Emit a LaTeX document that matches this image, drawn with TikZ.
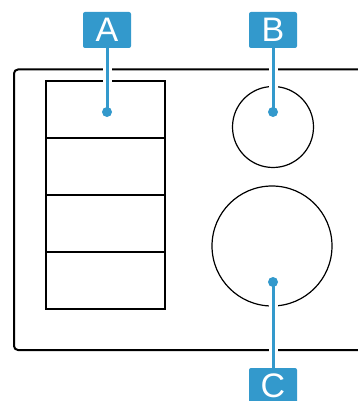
\documentclass[tikz,border=0pt]{standalone}
\usepackage{fontspec}
\setmainfont{Liberation Sans}
\usetikzlibrary{positioning}
\definecolor{calloutblue}{RGB}{51,153,204}

\begin{document}
\begin{tikzpicture}[
  x=1pt, y=-1pt,
  callout/.style={fill=calloutblue, rounded corners=2pt, minimum width=48pt, minimum height=36pt,
    inner sep=0pt, text=white, font=\fontsize{34}{34}\selectfont},
  cell/.style={draw, line width=1.3pt, minimum width=119pt, minimum height=57pt, inner sep=0pt, outer sep=0pt},
  knob/.style={draw, circle, line width=1.2pt, inner sep=0pt},
  leader/.style={calloutblue, line width=3pt, preaction={draw=white, line width=9pt}},
  pin/.style={fill=calloutblue, circle, inner sep=0pt, minimum size=10pt}
]
  \useasboundingbox (0,0) rectangle (358,401);
  \clip (0,0) rectangle (358,401);

  % housing
  \draw[line width=2pt, rounded corners=4pt] (400,69.5) -- (14,69.5) -- (14,350) -- (400,350);

  % stacked cells
  \node[cell] (cellone) at (105.5,109.5) {};
  \node[cell, below=0pt of cellone] (celltwo) {};
  \node[cell, below=0pt of celltwo] (cellthree) {};
  \node[cell, below=0pt of cellthree] (cellfour) {};

  % dials
  \node[knob, minimum size=81pt] (dialsmall) at (273,127) {};
  \node[knob, minimum size=120pt] (diallarge) at (272,246) {};

  % callouts
  \node[callout] (labA) at (107,30) {A};
  \node[callout] (labB) at (273,30) {B};
  \node[callout] (labC) at (273,386) {C};

  \coordinate (pinA) at (107,112);
  \coordinate (pinB) at (273,112);
  \coordinate (pinC) at (273,282);

  \draw[leader] (labA.south) -- (pinA);
  \draw[leader] (labB.south) -- (pinB);
  \draw[leader] (labC.north) -- (pinC);
  \foreach \p in {pinA,pinB,pinC}
    \node[pin] at (\p) {};
\end{tikzpicture}
\end{document}
